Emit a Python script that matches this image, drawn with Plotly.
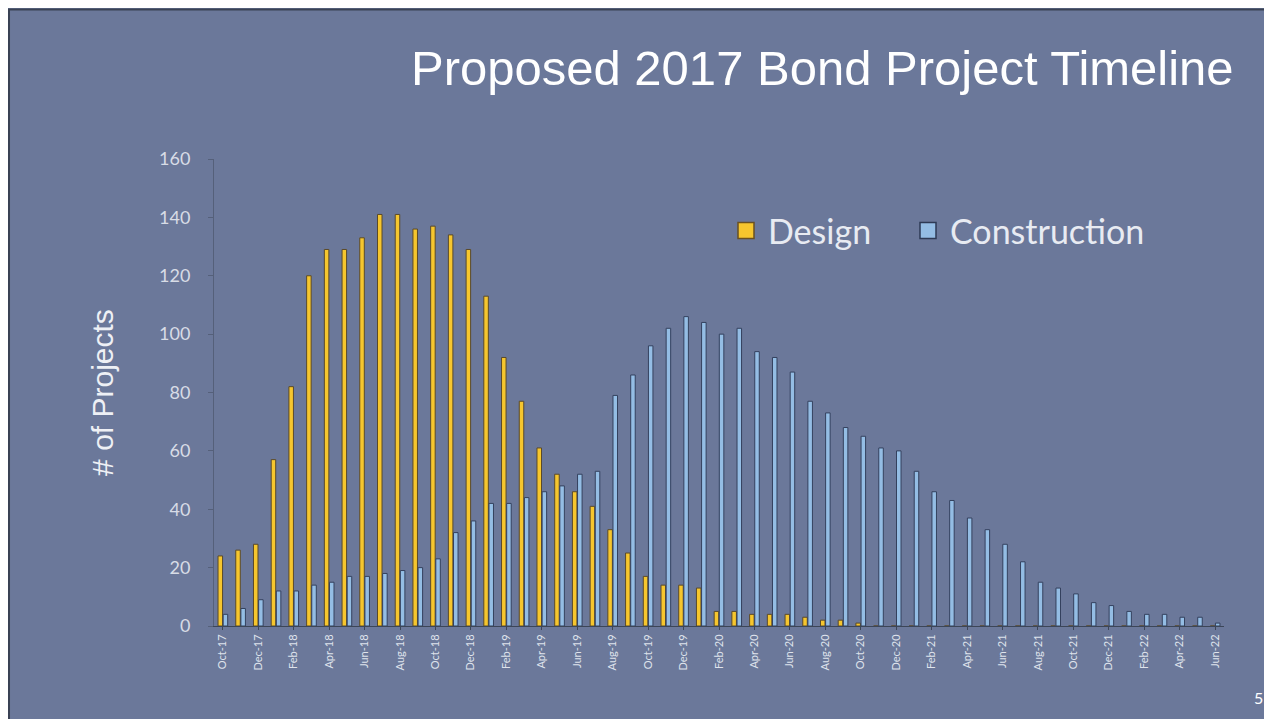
import plotly.graph_objects as go

months = ["Oct-17", "Nov-17", "Dec-17", "Jan-18", "Feb-18", "Mar-18", "Apr-18", "May-18", "Jun-18",
          "Jul-18", "Aug-18", "Sep-18", "Oct-18", "Nov-18", "Dec-18", "Jan-19", "Feb-19", "Mar-19",
          "Apr-19", "May-19", "Jun-19", "Jul-19", "Aug-19", "Sep-19", "Oct-19", "Nov-19", "Dec-19",
          "Jan-20", "Feb-20", "Mar-20", "Apr-20", "May-20", "Jun-20", "Jul-20", "Aug-20", "Sep-20",
          "Oct-20", "Nov-20", "Dec-20", "Jan-21", "Feb-21", "Mar-21", "Apr-21", "May-21", "Jun-21",
          "Jul-21", "Aug-21", "Sep-21", "Oct-21", "Nov-21", "Dec-21", "Jan-22", "Feb-22", "Mar-22",
          "Apr-22", "May-22", "Jun-22"]

design = [24, 26, 28, 57, 82, 120, 129, 129, 133, 141, 141, 136, 137, 134, 129, 113, 92, 77,
          61, 52, 46, 41, 33, 25, 17, 14, 14, 13, 5, 5, 4, 4, 4, 3, 2, 2,
          1, 0, 0, 0, 0, 0, 0, 0, 0, 0, 0, 0, 0, 0, 0, 0, 0, 0, 0, 0, 0]

construction = [4, 6, 9, 12, 12, 14, 15, 17, 17, 18, 19, 20, 23, 32, 36, 42, 42, 44,
                46, 48, 52, 53, 79, 86, 96, 102, 106, 104, 100, 102, 94, 92, 87, 77, 73, 68,
                65, 61, 60, 53, 46, 43, 37, 33, 28, 22, 15, 13, 11, 8, 7, 5, 4, 4,
                3, 3, 1]

tick_labels = months[::2]

BG = "#6b789a"
YEL = "#f6c62e"
BLU = "#94bde4"

L, R, T, B = 206, 56, 151, 101
PW, PH = 1272 - L - R, 719 - T - B

fig = go.Figure()
fig.add_trace(go.Bar(x=months, y=design, name="Design", showlegend=False,
                     marker=dict(color=YEL, line=dict(color="#5a4a2a", width=1))))
fig.add_trace(go.Bar(x=months, y=construction, name="Construction", showlegend=False,
                     marker=dict(color=BLU, line=dict(color="#34415e", width=1))))
# legend entries with larger square symbols
fig.add_trace(go.Scatter(x=[None], y=[None], mode="markers", name="Design", legend="legend",
                         marker=dict(symbol="square", size=18, color=YEL, line=dict(color="#6a5020", width=1.5))))
fig.add_trace(go.Scatter(x=[None], y=[None], mode="markers", name="Construction", legend="legend2",
                         marker=dict(symbol="square", size=18, color=BLU, line=dict(color="#2e3a55", width=1.5))))

leg_common = dict(orientation="h", xanchor="left", yanchor="middle", y=(T + PH - 223) / PH,
                  font=dict(family="Lato, Open Sans, sans-serif", size=34, color="#e8ebf2"),
                  bgcolor="rgba(0,0,0,0)", itemwidth=34)

fig.update_layout(
    width=1272, height=719,
    paper_bgcolor=BG, plot_bgcolor=BG,
    margin=dict(l=L, r=R, t=T, b=B),
    barmode="group", bargap=0.42, bargroupgap=0.12,
    showlegend=True,
    legend=dict(x=(716 - L) / PW, **leg_common),
    legend2=dict(x=(898 - L) / PW, **leg_common),
    font=dict(family="Lato, sans-serif", color="#dfe3ec"),
)
fig.update_xaxes(type="category", tickmode="array", tickvals=tick_labels, ticktext=tick_labels,
                 tickangle=-90, tickfont=dict(size=11, color="#dfe3ec", family="Lato, sans-serif"),
                 showline=True, linecolor="#3c4658", linewidth=1, ticks="outside", ticklen=3,
                 tickcolor="#3c4658", showgrid=False, range=[-0.5, 56.5])
fig.update_yaxes(range=[0, 160], dtick=20, showgrid=False, zeroline=False,
                 showline=True, linecolor="#55607a", linewidth=1, ticks="outside", ticklen=5,
                 tickcolor="#55607a", tickfont=dict(size=18, color="#d8dce6", family="Lato, sans-serif"),
                 ticklabelstandoff=14,
                 title=dict(text="# of Projects", standoff=36,
                            font=dict(family="Liberation Sans, Arial, sans-serif", size=30, color="#eef0f5")))

fig.add_annotation(xref="paper", yref="paper", x=1 + (1228 - (L + PW)) / PW, y=1 + (T - 60) / PH,
                   xanchor="right", yanchor="middle",
                   text="Proposed 2017 Bond Project Timeline", showarrow=False,
                   font=dict(family="Liberation Sans, Arial, sans-serif", size=49, color="#ffffff"))
fig.add_annotation(xref="paper", yref="paper", x=1 + (1250 - (L + PW)) / PW, y=-(689 - (T + PH)) / PH,
                   xanchor="center", yanchor="middle", text="5", showarrow=False,
                   font=dict(family="Lato, sans-serif", size=16, color="#ffffff"))
# slide border
fig.add_shape(type="rect", xref="paper", yref="paper", x0=-L / PW + 0.001, x1=1 + R / PW,
              y0=-B / PH, y1=1 + T / PH - 0.003, line=dict(color="#3a4254", width=2), fillcolor="rgba(0,0,0,0)",
              layer="above")

fig.write_html("out.html")
